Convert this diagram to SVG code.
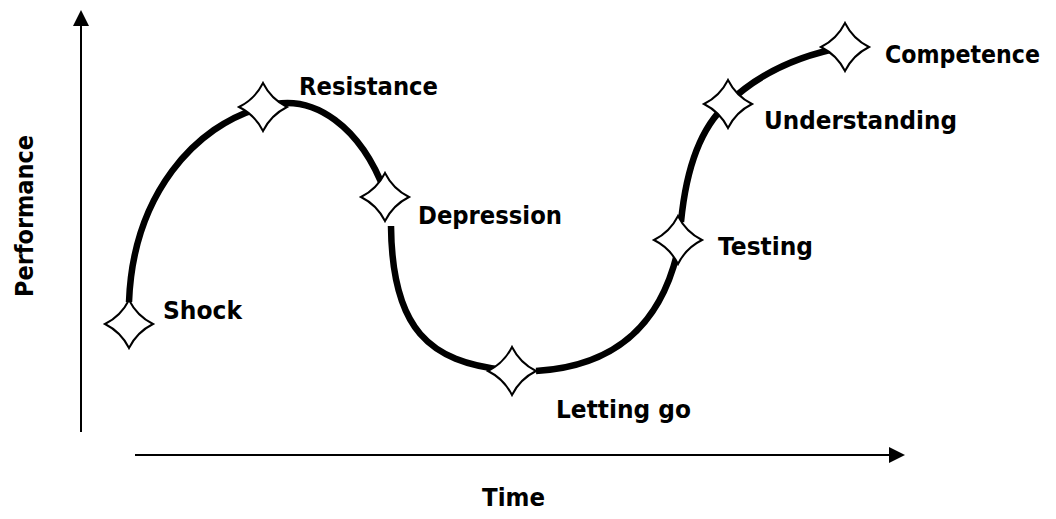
<svg xmlns="http://www.w3.org/2000/svg" width="1056" height="519" viewBox="0 0 1056 519">
<style>
.lbl{font-family:"DejaVu Sans",Verdana,sans-serif;font-weight:bold;font-size:24px;fill:#000}
.curve{fill:none;stroke:#000;stroke-width:6.5}
.axis{stroke:#000;stroke-width:2;fill:none}
.star{fill:#fff;stroke:#000;stroke-width:2;stroke-linejoin:miter}
</style>
<defs>
<path id="st" d="M0,-24 Q8,-8 24,0 Q8,8 0,24 Q-8,8 -24,0 Q-8,-8 0,-24 Z"/>
</defs>
<rect width="1056" height="519" fill="#fff"/>
<g id="axes">
<line class="axis" x1="81" y1="432" x2="81" y2="24"/>
<polygon points="81,10 73,26 89,26" fill="#000"/>
<line class="axis" x1="135" y1="455" x2="891" y2="455"/>
<polygon points="905,455 889,447 889,463" fill="#000"/>
</g>
<g id="connectors">
<path class="curve" d="M129,302 C133,195 195,125 263,107"/>
<path class="curve" d="M263,107 C315,90 362,130 385,192"/>
<path class="curve" d="M391,226 C392,330 430,362 505,370"/>
<path class="curve" d="M536,371 C620,366 662,320 678,250"/>
<path class="curve" d="M681,222 C686,170 700,128 727,104"/>
<path class="curve" d="M727,104 C760,72 800,55 845,47"/>
</g>
<g id="shock"><use href="#st" class="star" transform="translate(129,324)"/><text class="lbl" x="163" y="319" textLength="79" lengthAdjust="spacingAndGlyphs">Shock</text></g>
<g id="resistance"><use href="#st" class="star" transform="translate(263,107)"/><text class="lbl" x="299" y="95" textLength="139" lengthAdjust="spacingAndGlyphs">Resistance</text></g>
<g id="depression"><use href="#st" class="star" transform="translate(385,197)"/><text class="lbl" x="418" y="224" textLength="144" lengthAdjust="spacingAndGlyphs">Depression</text></g>
<g id="letting-go"><use href="#st" class="star" transform="translate(512,371)"/><text class="lbl" x="556" y="418" textLength="135" lengthAdjust="spacingAndGlyphs">Letting go</text></g>
<g id="testing"><use href="#st" class="star" transform="translate(678,240)"/><text class="lbl" x="718" y="255" textLength="95" lengthAdjust="spacingAndGlyphs">Testing</text></g>
<g id="understanding"><use href="#st" class="star" transform="translate(728,104)"/><text class="lbl" x="764" y="129" textLength="193" lengthAdjust="spacingAndGlyphs">Understanding</text></g>
<g id="competence"><use href="#st" class="star" transform="translate(845,47)"/><text class="lbl" x="885" y="63" textLength="155" lengthAdjust="spacingAndGlyphs">Competence</text></g>
<g id="labels">
<text class="lbl" x="482" y="506" textLength="63" lengthAdjust="spacingAndGlyphs">Time</text>
<text class="lbl" x="0" y="0" textLength="162" lengthAdjust="spacingAndGlyphs" transform="translate(33,297) rotate(-90)">Performance</text>
</g>
</svg>
